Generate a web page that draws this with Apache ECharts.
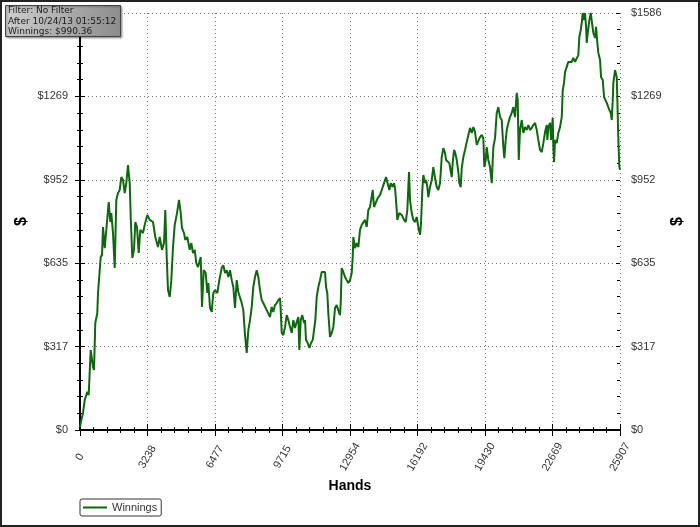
<!DOCTYPE html>
<html>
<head>
<meta charset="utf-8">
<style>
html,body{margin:0;padding:0;background:#fff;}
#chart{width:700px;height:527px;}
</style>
<script src="https://cdn.jsdelivr.net/npm/echarts@6.0.0/dist/echarts.min.js"></script>
</head>
<body>
<div id="chart"></div>
<script>
// ---- data ----
const hands = [
0,34,144,226,350,417,513,624,672,734,
830,864,945,993,1056,1104,1185,1262,1377,1454,
1502,1583,1665,1742,1823,1905,1982,2063,2145,2221,
2303,2385,2433,2509,2591,2653,2735,2816,2893,3023,
3104,3229,3344,3503,3613,3742,3824,3934,4030,4093,
4160,4222,4304,4381,4462,4544,4654,4750,4832,4894,
4990,5052,5148,5263,5340,5422,5503,5580,5662,5791,
5854,5935,6031,6108,6156,6237,6319,6396,6477,6588,
6684,6799,6876,6957,7039,7115,7197,7279,7355,7437,
7518,7595,7677,7758,7835,7917,7998,8075,8157,8238,
8315,8397,8478,8555,8636,8718,8795,8876,8958,9035,
9116,9198,9274,9356,9438,9514,9596,9630,9678,9754,
9836,9917,9994,10076,10157,10234,10316,10397,10474,10522,
10589,10666,10748,10796,10843,10925,11002,11083,11165,11227,
11290,11357,11434,11515,11597,11674,11755,11803,11865,11913,
11995,12076,12153,12235,12316,12393,12475,12508,12556,12633,
12715,12796,12873,12955,13036,13084,13113,13194,13276,13353,
13434,13516,13593,13674,13756,13833,13914,13996,14044,14106,
14202,14284,14394,14476,14586,14682,14744,14840,14907,15003,
15066,15114,15195,15224,15320,15435,15546,15627,15704,15785,
15833,15915,15992,16073,16155,16231,16313,16361,16424,16471,
16553,16601,16664,16711,16793,16875,16951,17033,17114,17191,
17273,17354,17431,17513,17561,17623,17719,17801,17834,17882,
17945,17993,18074,18151,18199,18266,18314,18391,18472,18554,
18631,18712,18794,18871,18952,19034,19110,19192,19274,19350,
19398,19465,19513,19590,19672,19753,19830,19912,19993,20070,
20152,20233,20310,20358,20425,20473,20550,20631,20713,20790,
20871,20953,21001,21049,21111,21193,21270,21351,21433,21510,
21591,21673,21749,21831,21912,21989,22071,22152,22229,22311,
22392,22421,22469,22551,22599,22680,22709,22743,22791,22872,
22949,23030,23112,23160,23222,23270,23352,23428,23510,23592,
23668,23750,23832,23908,23956,24024,24072,24120,24182,24230,
24278,24311,24360,24436,24503,24566,24628,24710,24758,24820,
24868,24950,24998,25079,25142,25204,25271,25348,25396,25463,
25511,25559,25588,25669,25751,25780,25828,25876,25907
];
const winnings = [
10,27,65,114,145,133,304,240,228,407,
445,521,525,658,666,772,692,761,867,791,
825,749,616,875,901,913,962,951,901,939,
1008,939,810,654,685,791,772,673,761,749,
780,818,799,791,734,696,734,685,711,837,
658,532,506,570,696,780,825,875,825,768,
749,723,734,685,711,673,685,635,620,658,
468,608,597,521,559,464,449,521,532,521,
570,616,627,597,608,582,608,570,544,464,
570,525,532,483,456,361,293,380,418,468,
544,582,608,582,532,494,483,487,456,449,
430,468,449,475,483,494,502,456,369,361,
392,437,418,392,369,418,388,411,430,304,
418,437,407,418,342,331,312,331,342,380,
418,506,544,570,601,597,601,544,521,445,
354,369,392,464,475,456,437,483,616,601,
582,570,559,570,597,658,734,692,711,696,
761,780,787,799,772,837,848,844,913,848,
867,882,894,913,939,962,958,913,939,924,
939,920,837,799,825,818,799,791,837,981,
875,825,799,791,810,772,742,787,913,970,
939,951,924,886,924,951,1000,958,924,913,
939,1038,1072,1053,1027,1034,1015,1008,962,1019,
1065,1057,1027,981,939,924,996,1038,1065,1095,
1122,1149,1130,1152,1133,1084,1091,1114,1122,1110,
1000,1027,1076,1027,1000,939,1076,1110,1206,1228,
1190,1179,1076,1034,1103,1141,1168,1190,1206,1228,
1190,1282,1255,1027,1141,1179,1130,1152,1141,1160,
1141,1149,1160,1168,1141,1103,1065,1057,1091,1133,
1160,1103,1152,1168,1103,1187,1076,1019,1103,1091,
1130,1152,1190,1293,1320,1361,1358,1400,1407,1400,
1415,1400,1407,1426,1495,1521,1548,1586,1559,1586,
1533,1472,1510,1559,1586,1586,1510,1491,1533,1472,
1434,1407,1342,1331,1266,1255,1244,1244,1217,1206,
1179,1255,1320,1369,1342,1255,1103,1000,990
];
const xTickLabels = ['0','3238','6477','9715','12954','16192','19430','22669','25907'];
const yTickLabels = ['$0','$317','$635','$952','$1269','$1586'];
const seriesName = 'Winnings';
const infoLines = ['Filter: No Filter','After 10/24/13 01:55:12','Winnings: $990.36'];
const xMax = 25907, yMax = 1586;

// ---- chart ----
const xInt = xMax / (xTickLabels.length - 1);
const yInt = yMax / (yTickLabels.length - 1);
const data = hands.map((h, i) => [h, winnings[i]]);
const FONT = 'Liberation Sans, Arial, sans-serif';
const axisBlack = {show: true, lineStyle: {color: '#000', width: 2}};
const dotted = {show: true, lineStyle: {color: '#777', width: 1, type: [1, 3]}};

function xAx(extra) {
  return Object.assign({
    type: 'value', min: 0, max: xMax, interval: xInt,
    axisLine: {show: false}, splitLine: {show: false},
    axisLabel: {show: false},
    axisTick: {show: true, length: 6, lineStyle: {color: '#000', width: 1}},
    minorTick: {show: true, splitNumber: 5, length: 3, lineStyle: {color: '#000', width: 1}},
    minorSplitLine: {show: false}
  }, extra);
}
function yAx(extra) {
  return Object.assign({
    type: 'value', min: 0, max: yMax, interval: yInt,
    axisLine: {show: false}, splitLine: {show: false},
    axisLabel: {show: false},
    axisTick: {show: true, length: 6, lineStyle: {color: '#000', width: 1}},
    minorTick: {show: true, splitNumber: 5, length: 3, lineStyle: {color: '#000', width: 1}},
    minorSplitLine: {show: false}
  }, extra);
}
const xLabelFmt = v => xTickLabels[Math.round(v / xInt)];
const yLabelFmt = v => yTickLabels[Math.round(v / yInt)];

const chart = echarts.init(document.getElementById('chart'), null, {renderer: 'canvas'});
chart.setOption({
  animation: false,
  backgroundColor: '#fff',
  grid: {left: 80, right: 80, top: 13, bottom: 97, containLabel: false, outerBoundsMode: 'none'},
  xAxis: [
    xAx({position: 'bottom', axisLine: axisBlack, splitLine: dotted,
      axisTick: {show: true, inside: false, length: 6, lineStyle: {color: '#000'}},
      axisLabel: {show: true, rotate: 60, margin: 27, align: 'center', verticalAlign: 'middle',
        fontFamily: FONT, fontSize: 11, color: '#333', formatter: xLabelFmt,
        showMinLabel: true, showMaxLabel: true, hideOverlap: false},
      name: 'Hands', nameLocation: 'middle', nameGap: 49, nameMoveOverlap: false,
      nameTextStyle: {fontFamily: FONT, fontSize: 14, fontWeight: 'bold', color: '#000'}}),
    xAx({position: 'bottom', axisTick: {show: true, inside: true, length: 6, lineStyle: {color: '#000'}}}),
    xAx({position: 'top', axisLine: axisBlack,
      axisTick: {show: true, inside: true, length: 5, lineStyle: {color: '#000'}}})
  ],
  yAxis: [
    yAx({position: 'left', axisLine: axisBlack, splitLine: dotted,
      axisTick: {show: true, inside: false, length: 5, lineStyle: {color: '#000'}},
      axisLabel: {show: true, margin: 12, fontFamily: FONT, fontSize: 11, color: '#333',
        formatter: yLabelFmt, showMinLabel: true, showMaxLabel: true},
      name: '$', nameLocation: 'middle', nameGap: 50, nameRotate: 90, nameMoveOverlap: false,
      nameTextStyle: {fontFamily: FONT, fontSize: 16, fontWeight: 'bold', color: '#000'}}),
    yAx({position: 'left', axisTick: {show: true, inside: true, length: 5, lineStyle: {color: '#000'}}}),
    yAx({position: 'right', axisLine: axisBlack,
      axisTick: {show: true, inside: false, length: 4, lineStyle: {color: '#000'}},
      axisLabel: {show: true, margin: 11, fontFamily: FONT, fontSize: 11, color: '#333',
        formatter: yLabelFmt, showMinLabel: true, showMaxLabel: true},
      name: '$', nameLocation: 'middle', nameGap: 50, nameRotate: 90, nameMoveOverlap: false,
      nameTextStyle: {fontFamily: FONT, fontSize: 16, fontWeight: 'bold', color: '#000'}}),
    yAx({position: 'right', axisTick: {show: true, inside: true, length: 4, lineStyle: {color: '#000'}}})
  ],
  legend: {
    show: true, left: 80, top: 499, orient: 'horizontal',
    data: [seriesName], icon: 'rect', itemWidth: 24, itemHeight: 2, itemGap: 6,
    padding: [3, 4, 3, 3], borderColor: '#333', borderWidth: 1, borderRadius: 2,
    textStyle: {fontFamily: FONT, fontSize: 11, color: '#333'}
  },
  series: [{
    name: seriesName, type: 'line', data: data,
    xAxisIndex: 0, yAxisIndex: 0,
    showSymbol: false, symbol: 'none',
    lineStyle: {color: '#0f670f', width: 2},
    itemStyle: {color: '#0f670f'},
    clip: true, z: 3
  }],
  graphic: [
    {type: 'rect', z: 100, shape: {x: 1, y: 1, width: 698, height: 525},
      style: {fill: 'none', stroke: '#222', lineWidth: 2}},
    {type: 'rect', z: 100, shape: {x: 5.5, y: 5.5, width: 115, height: 31},
      style: {
        fill: new echarts.graphic.LinearGradient(0, 0, 1, 1, [
          {offset: 0, color: '#cfcfcf'}, {offset: 1, color: '#8a8a8a'}]),
        stroke: '#444', lineWidth: 1,
        shadowBlur: 2, shadowOffsetX: 1, shadowOffsetY: 1, shadowColor: 'rgba(0,0,0,0.35)'
      }},
    {type: 'text', z: 101, x: 8, y: 6, style: {text: infoLines[0], font: '9px "DejaVu Sans"', fill: '#1a1a1a'}},
    {type: 'text', z: 101, x: 8, y: 17, style: {text: infoLines[1], font: '9px "DejaVu Sans"', fill: '#1a1a1a'}},
    {type: 'text', z: 101, x: 8, y: 27, style: {text: infoLines[2], font: '9px "DejaVu Sans"', fill: '#1a1a1a'}}
  ]
});
</script>
</body>
</html>
